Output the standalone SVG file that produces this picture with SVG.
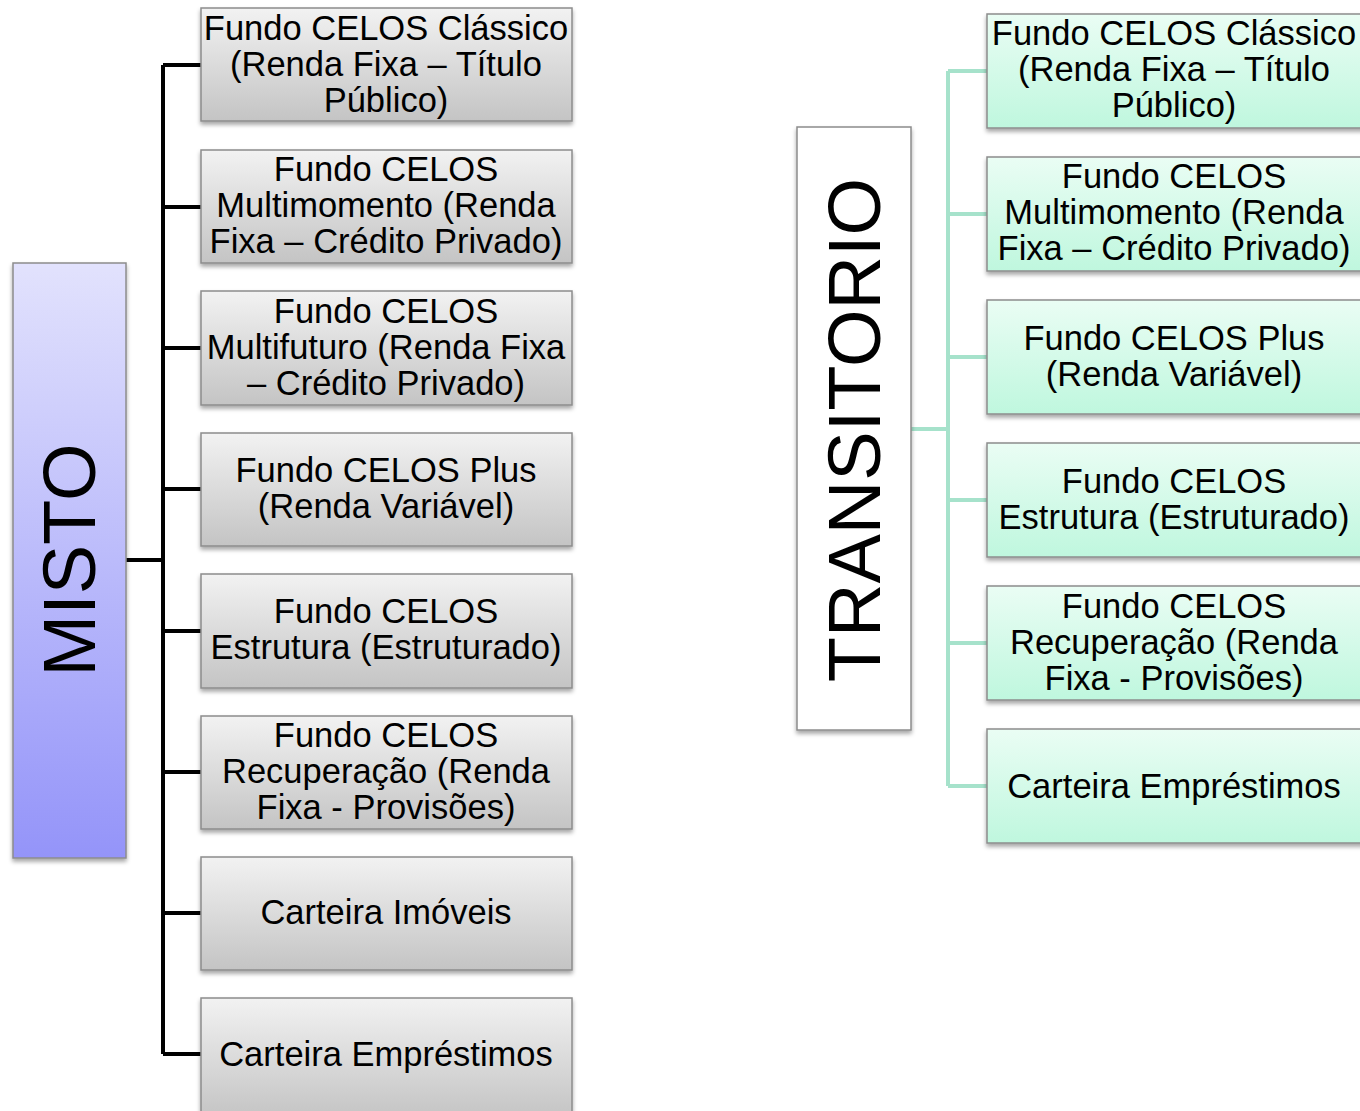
<svg xmlns="http://www.w3.org/2000/svg" width="1360" height="1111" viewBox="0 0 1360 1111">
<defs>
<linearGradient id="gGray" x1="0" y1="0" x2="0" y2="1"><stop offset="0" stop-color="#f2f2f2"/><stop offset="1" stop-color="#c4c4c4"/></linearGradient>
<linearGradient id="gGreen" x1="0" y1="0" x2="0" y2="1"><stop offset="0" stop-color="#eafdf4"/><stop offset="1" stop-color="#bff7de"/></linearGradient>
<linearGradient id="gBlue" x1="0" y1="0" x2="0" y2="1"><stop offset="0" stop-color="#e2e2fd"/><stop offset="1" stop-color="#9494f9"/></linearGradient>
<filter id="sh" x="-10%" y="-10%" width="120%" height="130%"><feDropShadow dx="0" dy="3" stdDeviation="2" flood-color="#000" flood-opacity="0.35"/></filter>
<style>
.box{stroke:#8c8c8c;stroke-width:1.5;filter:url(#sh)}
.gray{fill:url(#gGray)}
.green{fill:url(#gGreen)}
.t{font-family:"Liberation Sans",Arial,sans-serif;font-size:34.5px;fill:#000;text-anchor:middle}
.big{font-family:"Liberation Sans",Arial,sans-serif;font-size:74px;fill:#000;text-anchor:middle}
.cb{stroke:#000;stroke-width:4;fill:none}
.cg{stroke:#a6e2cb;stroke-width:4;fill:none}
</style>
</defs>
<rect width="1360" height="1111" fill="#fff"/>
<g id="connectors">
<path class="cb" d="M126 560H163M163 65V1054M163 65H201M163 207H201M163 348H201M163 489H201M163 631H201M163 772H201M163 913H201M163 1054H201"/>
<path class="cg" d="M911 429H948M948 71V786M948 71H987M948 214H987M948 357H987M948 500H987M948 643H987M948 786H987"/>
</g>
<g id="misto"><rect class="box" x="13" y="263" width="113" height="595" fill="url(#gBlue)"/><text class="big" transform="translate(69,560) rotate(-90)" y="26">MISTO</text></g>
<g id="m1"><rect class="box gray" x="201" y="8" width="371" height="113"/><text class="t"><tspan x="386" y="40">Fundo CELOS Clássico</tspan><tspan x="386" y="76">(Renda Fixa – Título</tspan><tspan x="386" y="112">Público)</tspan></text></g>
<g id="m2"><rect class="box gray" x="201" y="150" width="371" height="113"/><text class="t"><tspan x="386" y="181">Fundo CELOS</tspan><tspan x="386" y="217">Multimomento (Renda</tspan><tspan x="386" y="253">Fixa – Crédito Privado)</tspan></text></g>
<g id="m3"><rect class="box gray" x="201" y="291" width="371" height="114"/><text class="t"><tspan x="386" y="323">Fundo CELOS</tspan><tspan x="386" y="359">Multifuturo (Renda Fixa</tspan><tspan x="386" y="395">– Crédito Privado)</tspan></text></g>
<g id="m4"><rect class="box gray" x="201" y="433" width="371" height="113"/><text class="t"><tspan x="386" y="482">Fundo CELOS Plus</tspan><tspan x="386" y="518">(Renda Variável)</tspan></text></g>
<g id="m5"><rect class="box gray" x="201" y="574" width="371" height="114"/><text class="t"><tspan x="386" y="623">Fundo CELOS</tspan><tspan x="386" y="659">Estrutura (Estruturado)</tspan></text></g>
<g id="m6"><rect class="box gray" x="201" y="716" width="371" height="113"/><text class="t"><tspan x="386" y="747">Fundo CELOS</tspan><tspan x="386" y="783">Recuperação (Renda</tspan><tspan x="386" y="819">Fixa - Provisões)</tspan></text></g>
<g id="m7"><rect class="box gray" x="201" y="857" width="371" height="113"/><text class="t" x="386" y="924">Carteira Imóveis</text></g>
<g id="m8"><rect class="box gray" x="201" y="998" width="371" height="120"/><text class="t" x="386" y="1066">Carteira Empréstimos</text></g>
<g id="transitorio"><rect class="box" x="797" y="127" width="114" height="603" fill="#fff"/><text class="big" transform="translate(854,430) rotate(-90)" y="26">TRANSITORIO</text></g>
<g id="t1"><rect class="box green" x="987" y="14" width="378" height="114"/><text class="t"><tspan x="1174" y="45">Fundo CELOS Clássico</tspan><tspan x="1174" y="81">(Renda Fixa – Título</tspan><tspan x="1174" y="117">Público)</tspan></text></g>
<g id="t2"><rect class="box green" x="987" y="157" width="378" height="114"/><text class="t"><tspan x="1174" y="188">Fundo CELOS</tspan><tspan x="1174" y="224">Multimomento (Renda</tspan><tspan x="1174" y="260">Fixa – Crédito Privado)</tspan></text></g>
<g id="t3"><rect class="box green" x="987" y="300" width="378" height="114"/><text class="t"><tspan x="1174" y="350">Fundo CELOS Plus</tspan><tspan x="1174" y="386">(Renda Variável)</tspan></text></g>
<g id="t4"><rect class="box green" x="987" y="443" width="378" height="114"/><text class="t"><tspan x="1174" y="493">Fundo CELOS</tspan><tspan x="1174" y="529">Estrutura (Estruturado)</tspan></text></g>
<g id="t5"><rect class="box green" x="987" y="586" width="378" height="114"/><text class="t"><tspan x="1174" y="618">Fundo CELOS</tspan><tspan x="1174" y="654">Recuperação (Renda</tspan><tspan x="1174" y="690">Fixa - Provisões)</tspan></text></g>
<g id="t6"><rect class="box green" x="987" y="729" width="378" height="114"/><text class="t" x="1174" y="798">Carteira Empréstimos</text></g>
</svg>
